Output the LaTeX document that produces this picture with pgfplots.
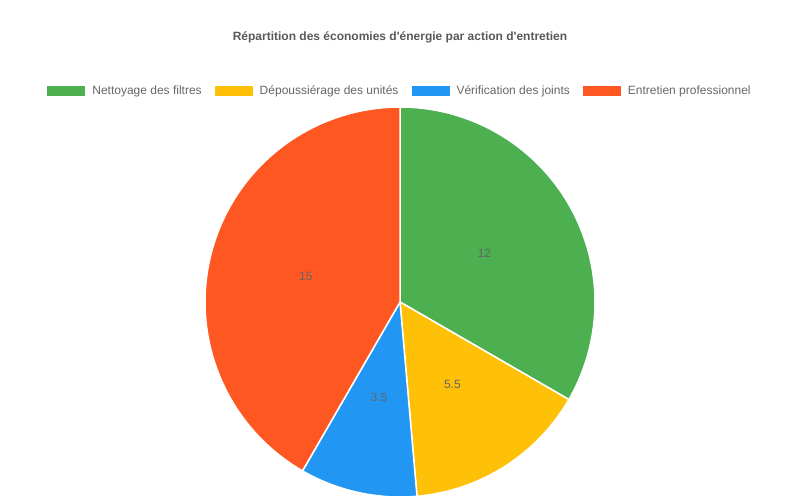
\documentclass[border=0pt]{standalone}
\usepackage{pgfplots}
\pgfplotsset{compat=1.18}
\usepackage{pgfplotstable}
\usepackage{fontspec}
\setmainfont{Liberation Sans}

\definecolor{cA}{HTML}{4CAF50}
\definecolor{cB}{HTML}{FFC107}
\definecolor{cC}{HTML}{2196F3}
\definecolor{cD}{HTML}{FF5722}
\definecolor{txt}{HTML}{666666}

% parts of the energy savings, per maintenance action
\pgfplotstableread{
action value
Nettoyage 12
Depoussierage 5.5
Verification 3.5
Entretien 15
}\savings

\begin{document}
\begin{tikzpicture}[font=\fontsize{12}{14}\selectfont]
\pgfplotstablegetelem{0}{value}\of\savings \let\vA\pgfplotsretval
\pgfplotstablegetelem{1}{value}\of\savings \let\vB\pgfplotsretval
\pgfplotstablegetelem{2}{value}\of\savings \let\vC\pgfplotsretval
\pgfplotstablegetelem{3}{value}\of\savings \let\vD\pgfplotsretval
\pgfmathsetmacro\tot{\vA+\vB+\vC+\vD}
% slice edges, clockwise from the top
\pgfmathsetmacro\aA{90}
\pgfmathsetmacro\aB{\aA-360*\vA/\tot}
\pgfmathsetmacro\aC{\aB-360*\vB/\tot}
\pgfmathsetmacro\aD{\aC-360*\vC/\tot}
\pgfmathsetmacro\aE{\aD-360*\vD/\tot}
\useasboundingbox (0,0) rectangle (800pt,-500pt);
\node[font=\fontsize{12}{14}\selectfont\bfseries, text=black!65] at (400pt,-37pt)
  {Répartition des économies d\textquotesingle énergie par action d\textquotesingle entretien};
\begin{axis}[
    at={(400pt,-302pt)}, anchor=origin,
    x=195pt, y=195pt,
    xmin=-1, xmax=1, ymin=-1, ymax=1,
    hide axis, clip=false,
    legend columns=4,
    legend style={at={(rel axis cs:0.5,1.041)}, anchor=center,
      draw=none, fill=none, text=txt, inner sep=0pt,
      /tikz/every odd column/.style={column sep=5pt},
      /tikz/every even column/.style={column sep=11pt}},
    legend image code/.code={\fill[#1, draw=none] (0pt,-5pt) rectangle (38pt,5pt);},
    every axis plot/.append style={draw=white, line width=1.5pt, samples=90},
    ]
\addplot[fill=cA, domain=\aB:\aA] ({cos(x)},{sin(x)}) -- (axis cs:0,0) -- cycle;
\addlegendentry{Nettoyage des filtres}
\addplot[fill=cB, domain=\aC:\aB] ({cos(x)},{sin(x)}) -- (axis cs:0,0) -- cycle;
\addlegendentry{Dépoussiérage des unités}
\addplot[fill=cC, domain=\aD:\aC] ({cos(x)},{sin(x)}) -- (axis cs:0,0) -- cycle;
\addlegendentry{Vérification des joints}
\addplot[fill=cD, domain=\aE:\aD] ({cos(x)},{sin(x)}) -- (axis cs:0,0) -- cycle;
\addlegendentry{Entretien professionnel}
\pgfmathsetmacro\mA{(\aA+\aB)/2}
\pgfmathsetmacro\mB{(\aB+\aC)/2}
\pgfmathsetmacro\mC{(\aC+\aD)/2}
\pgfmathsetmacro\mD{(\aD+\aE)/2}
\node[text=txt] at (axis cs:{0.5*cos(\mA)},{0.5*sin(\mA)}) {\vA};
\node[text=txt] at (axis cs:{0.5*cos(\mB)},{0.5*sin(\mB)}) {\vB};
\node[text=txt] at (axis cs:{0.5*cos(\mC)},{0.5*sin(\mC)}) {\vC};
\node[text=txt] at (axis cs:{0.5*cos(\mD)},{0.5*sin(\mD)}) {\vD};
\end{axis}
\end{tikzpicture}
\end{document}
